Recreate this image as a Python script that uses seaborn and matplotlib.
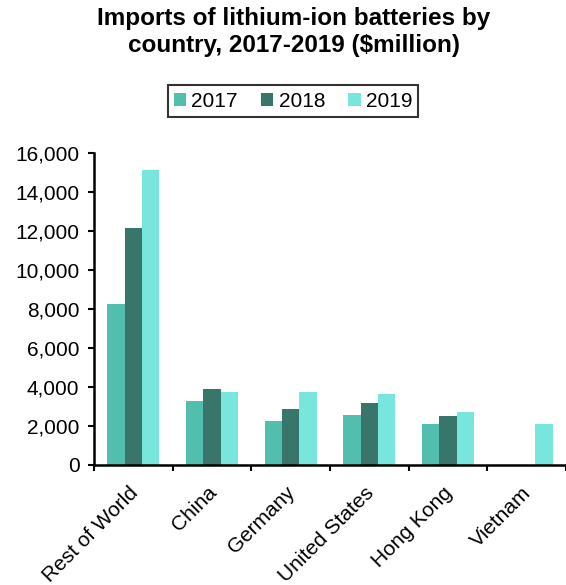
import numpy as np
import pandas as pd
import matplotlib
matplotlib.use("Agg")
import matplotlib.pyplot as plt
import matplotlib.transforms as mtransforms
import seaborn as sns
from matplotlib.ticker import FuncFormatter, FixedLocator

categories = ["Rest of World", "China", "Germany", "United States", "Hong Kong", "Vietnam"]
years = ["2017", "2018", "2019"]
v2017 = [8250, 3270, 2260, 2550, 2100, np.nan]
v2018 = [12150, 3900, 2860, 3160, 2480, np.nan]
v2019 = [15150, 3730, 3730, 3640, 2720, 2100]
colors = ["#52BFAE", "#38756B", "#78E6DC"]
title = "Imports of lithium-ion batteries by\ncountry, 2017-2019 ($million)"

sns.set_theme(style="white")
plt.rcParams["font.family"] = ["Liberation Sans", "DejaVu Sans"]
plt.rcParams["text.color"] = "black"
plt.rcParams["xtick.color"] = "black"
plt.rcParams["ytick.color"] = "black"
plt.rcParams["axes.labelcolor"] = "black"

rows = []
for y, vals in zip(years, [v2017, v2018, v2019]):
    for c, v in zip(categories, vals):
        rows.append({"country": c, "year": y, "value": v})
df = pd.DataFrame(rows)

fig = plt.figure(figsize=(5.66, 5.85), dpi=100)
ax = fig.add_axes([94/566, 1-464.5/585, 1-94/566, (464.5-153.3)/585])
sns.barplot(data=df, x="country", y="value", hue="year", order=categories,
            hue_order=years, palette=colors, width=0.665, ax=ax,
            saturation=1, errorbar=None, linewidth=0)

ax.set_xlim(-0.5, 5.5)
ax.set_ylim(0, 16000)
ax.set_yticks(np.arange(0, 16001, 2000))
ax.yaxis.set_major_formatter(FuncFormatter(lambda v, p: f"{int(v):,}"))
ax.set_xlabel("")
ax.set_ylabel("")
for s in ["top", "right"]:
    ax.spines[s].set_visible(False)
for s in ["left", "bottom"]:
    ax.spines[s].set_color("black")
    ax.spines[s].set_linewidth(1.8)

ax.tick_params(axis="y", which="major", left=True, length=4.5, width=1.5,
               color="black", labelsize=15, pad=6, labelcolor="black")
ax.tick_params(axis="x", which="major", bottom=False, length=0, labelsize=15,
               pad=4, labelcolor="black")
ax.xaxis.set_minor_locator(FixedLocator(np.arange(-0.5, 6, 1.0)))
ax.tick_params(axis="x", which="minor", bottom=True, length=4.5, width=1.5, color="black")
offset = mtransforms.ScaledTranslation(-5/100, -13/100, fig.dpi_scale_trans)
for lab in ax.get_xticklabels():
    lab.set_rotation(45)
    lab.set_ha("right")
    lab.set_rotation_mode("anchor")
    lab.set_transform(lab.get_transform() + offset)

fig.text(294/566, 1-7/585, title, ha="center", va="top", fontsize=17.5,
         fontweight="bold", linespacing=1.2, color="black")

handles, labels = ax.get_legend_handles_labels()
ax.get_legend().remove()
leg = fig.legend(handles, labels, loc="center", bbox_to_anchor=(293/566, 1-101/585),
                 ncol=3, frameon=True, fontsize=15, handlelength=0.6,
                 handleheight=0.6, handletextpad=0.25, columnspacing=1.1,
                 borderpad=0.3, fancybox=False)
leg.get_frame().set_edgecolor("black")
leg.get_frame().set_linewidth(1.5)

fig.savefig("out.png", dpi=100)
